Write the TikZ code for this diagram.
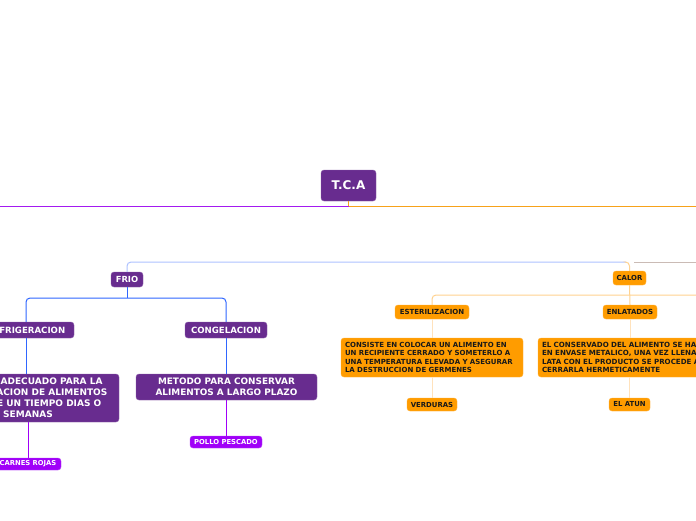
\documentclass[tikz,border=0pt]{standalone}
\usepackage{fontspec}
\setmainfont{DejaVu Sans}
\definecolor{tpurple}{HTML}{682C8F}
\definecolor{tviolet}{HTML}{A000F8}
\definecolor{torange}{HTML}{FF9C00}
\definecolor{lviolet}{HTML}{A31AF0}
\definecolor{lorange}{HTML}{F7A21A}
\definecolor{lblue}{HTML}{AEC2FF}
\definecolor{mblue}{HTML}{2F66FF}
\definecolor{lgray}{HTML}{CABBB5}
\definecolor{peach}{HTML}{FFD28F}
\definecolor{lpeach}{HTML}{FFE2BC}
\tikzset{
  bx/.style={rounded corners=3pt, inner sep=0pt, font=\bfseries},
  pbox/.style={bx, fill=tpurple, draw=tpurple!75!white, text=white},
  vbox/.style={bx, fill=tviolet, draw=tviolet!75!white, text=white},
  obox/.style={bx, fill=torange, draw=torange!80!white, text=black!90},
  ln/.style={line width=1pt},
}
\begin{document}
\begin{tikzpicture}[x=1pt,y=-1pt]
\path[use as bounding box, fill=white] (0,0) rectangle (696,520);

% nodes
\node[pbox, minimum width=55, minimum height=31, font=\bfseries\fontsize{12}{14}\selectfont] (tca) at (348.5,185.5) {T.C.A};
\node[pbox, minimum width=32, minimum height=15, font=\bfseries\fontsize{8.4}{10}\selectfont] (frio) at (127,279.5) {FRIO};
\node[pbox, minimum width=96, minimum height=16, font=\bfseries\fontsize{8.6}{10}\selectfont] (refrig) at (26,330) {REFRIGERACION};
\node[pbox, minimum width=82, minimum height=16, font=\bfseries\fontsize{8.6}{10}\selectfont] (conge) at (226,330) {CONGELACION};
\node[pbox, minimum width=182, minimum height=48, align=center, font=\bfseries\fontsize{9}{11}\selectfont] (refdesc) at (28,398) {METODO ADECUADO PARA LA\\CONSERVACION DE ALIMENTOS\\DURANTE UN TIEMPO DIAS O\\SEMANAS};
\node[pbox, minimum width=181, minimum height=26, align=center, font=\bfseries\fontsize{8.9}{11}\selectfont] (metodo) at (226.5,387) {METODO PARA CONSERVAR\\ALIMENTOS A LARGO PLAZO};
\node[vbox, minimum width=66, minimum height=12, font=\bfseries\fontsize{6.8}{8}\selectfont] (carnes) at (28,464) {CARNES ROJAS};
\node[vbox, minimum width=72, minimum height=12, font=\bfseries\fontsize{6.8}{8}\selectfont] (pollo) at (226,442) {POLLO PESCADO};

\node[obox, minimum width=33, minimum height=14, font=\bfseries\fontsize{6.9}{8}\selectfont] (calor) at (629.5,278) {CALOR};
\node[obox, minimum width=74, minimum height=14, font=\bfseries\fontsize{7}{8}\selectfont] (ester) at (432,312) {ESTERILIZACION};
\node[obox, minimum width=54, minimum height=14, font=\bfseries\fontsize{7}{8}\selectfont] (enlat) at (630,312) {ENLATADOS};
\node[obox, text width=174, inner xsep=4pt, minimum height=39, align=left, font=\bfseries\fontsize{7}{8.5}\selectfont] (estdesc) at (432,357.5) {CONSISTE EN COLOCAR UN ALIMENTO EN\\UN RECIPIENTE CERRADO Y SOMETERLO A\\UNA TEMPERATURA ELEVADA Y ASEGURAR\\LA DESTRUCCION DE GERMENES};
\node[obox, text width=192, inner xsep=4pt, minimum height=39, align=left, font=\bfseries\fontsize{7.1}{8.5}\selectfont] (enldesc) at (638,357.5) {EL CONSERVADO DEL ALIMENTO SE HACE\\EN ENVASE METALICO, UNA VEZ LLENADA LA\\LATA CON EL PRODUCTO SE PROCEDE A\\CERRARLA HERMETICAMENTE};
\node[obox, minimum width=50, minimum height=13, font=\bfseries\fontsize{6.9}{8}\selectfont] (verd) at (432,404.5) {VERDURAS};
\node[obox, minimum width=41, minimum height=13, font=\bfseries\fontsize{6.9}{8}\selectfont] (atun) at (629.5,404.5) {EL ATUN};

% coordinates
\coordinate (tjoin) at (348.5,206);
\coordinate (lend) at (0,206);
\coordinate (rend) at (696,206);
\coordinate (bstart) at (626,262);
\coordinate (gstart) at (634,262);
\coordinate (gend) at (696,262);
\coordinate (fjoin) at (127,298);
\coordinate (cjoin) at (629.5,295);
\coordinate (cend) at (696,295);

% connectors
\draw[ln, lorange] (tca.south) -- (tjoin);
\draw[ln, lviolet] (tjoin) -- (lend);
\draw[ln, lorange] (tjoin) -- (rend);

\draw[ln, lblue, rounded corners=4pt] (frio.north) |- (bstart);
\draw[ln, peach, rounded corners=4pt] (bstart) -| (calor.north);
\draw[ln, lgray] (gstart) -- (gend);

\draw[ln, mblue] (frio.south) -- (fjoin);
\draw[ln, mblue, rounded corners=4pt] (refrig.north) |- (fjoin) -| (conge.north);
\draw[ln, mblue] (refrig.south) -- (refdesc.north -| refrig.south);
\draw[ln, mblue] (conge.south) -- (metodo.north -| conge.south);
\draw[ln, tviolet] (refdesc.south) -- (carnes.north);
\draw[ln, tviolet] (metodo.south -| pollo.north) -- (pollo.north);

\draw[ln, peach] (calor.south) -- (enlat.north);
\draw[ln, peach, rounded corners=4pt] (ester.north) |- (cjoin) -- (cend);
\draw[ln, lpeach] (ester.south) -- (estdesc.north -| ester.south);
\draw[ln, lpeach] (estdesc.south -| verd.north) -- (verd.north);
\draw[ln, lpeach] (enlat.south) -- (enldesc.north -| enlat.south);
\draw[ln, lpeach] (enldesc.south -| atun.north) -- (atun.north);
\end{tikzpicture}
\end{document}
